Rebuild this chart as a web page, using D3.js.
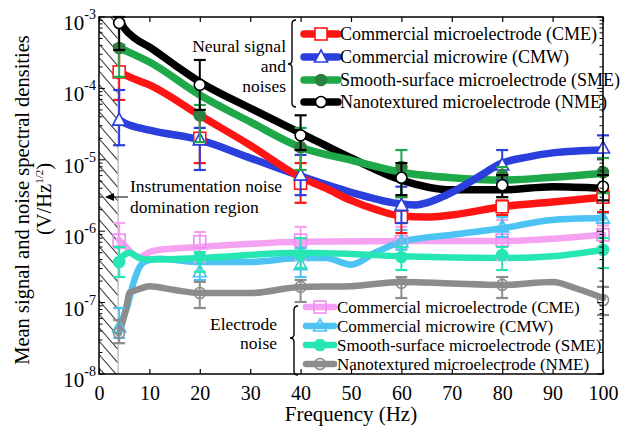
<!DOCTYPE html>
<html><head><meta charset="utf-8">
<script src="https://cdn.jsdelivr.net/npm/d3@7"></script>
<style>
html,body{margin:0;padding:0;background:#fff;}
</style></head>
<body>
<svg id="chart" width="622" height="429" font-family="Liberation Serif"></svg>
<script>
// ---------------- data ----------------
const markerFreqs = [4, 20, 40, 60, 80, 100];
const xTickValues = [0, 10, 20, 30, 40, 50, 60, 70, 80, 90, 100];
const yTickExponents = [-8, -7, -6, -5, -4, -3];
const hatchEndFreq = 3.8;

const seriesNames = ["Commercial microelectrode (CME)", "Commercial microwire (CMW)",
  "Smooth-surface microelectrode (SME)", "Nanotextured microelectrode (NME)"];

// Neural signal and noises — markers (mean) and error bars
const cmeSigMean = [1.7e-4, 2.0e-5, 4.7e-6, 1.58e-6, 2.2e-6, 3.0e-6];
const cmeSigHi   = [4.06e-4, 4.2e-5, 9.0e-6, 3.0e-6, 2.7e-6, 3.8e-6];
const cmeSigLo   = [6.9e-5, 9.0e-6, 2.5e-6, 9.4e-7, 1.69e-6, 1.86e-6];
const cmwSigMean = [3.6e-5, 1.9e-5, 6.1e-6, 2.3e-6, 8.45e-6, 1.46e-5];
const cmwSigHi   = [9.5e-5, 2.8e-5, 1.17e-5, 4.2e-6, 1.37e-5, 2.2e-5];
const cmwSigLo   = [1.6e-5, 7.2e-6, 3.2e-6, 1.3e-6, 5.2e-6, 6.5e-6];
const smeSigMean = [3.68e-4, 4.2e-5, 1.5e-5, 7.9e-6, 6.1e-6, 6.7e-6];
const smeSigHi   = [4.06e-4, 5.86e-5, 2.8e-5, 1.37e-5, 7.9e-6, 1.06e-5];
const smeSigLo   = [1.45e-4, 1.77e-5, 7.2e-6, 3.0e-6, 3.0e-6, 3.4e-6];
const nmeSigMean = [8.24e-4, 1.12e-4, 2.2e-5, 5.6e-6, 4.4e-6, 4.2e-6];
const nmeSigHi   = [1.0e-3, 2.5e-4, 4.2e-5, 9.0e-6, 6.1e-6, 6.1e-6];
const nmeSigLo   = [3.45e-4, 5.0e-5, 1.37e-5, 3.2e-6, 3.0e-6, 2.7e-6];

// Neural signal smoothed curves
const cmeSigLineF = [4, 6, 10, 20, 30, 40, 45, 50, 55, 60, 65, 70, 80, 90, 100];
const cmeSigLine  = [1.7e-4, 1.45e-4, 1.12e-4, 4.2e-5, 1.6e-5, 5.7e-6, 4.0e-6, 2.7e-6, 2.0e-6, 1.63e-6, 1.58e-6, 1.69e-6, 2.2e-6, 2.56e-6, 3.0e-6];
const cmwSigLineF = [4, 5, 10, 20, 30, 40, 50, 60, 63, 65, 70, 75, 80, 85, 90, 100];
const cmwSigLine  = [3.6e-5, 3.3e-5, 2.6e-5, 1.9e-5, 1.06e-5, 5.9e-6, 3.5e-6, 2.4e-6, 2.33e-6, 2.5e-6, 3.5e-6, 5.6e-6, 9.0e-6, 1.09e-5, 1.25e-5, 1.37e-5];
const smeSigLineF = [4, 6, 10, 20, 30, 40, 50, 60, 70, 80, 90, 100];
const smeSigLine  = [3.68e-4, 3.2e-4, 2.34e-4, 8.1e-5, 3.4e-5, 1.5e-5, 9.9e-6, 6.7e-6, 5.6e-6, 5.2e-6, 5.7e-6, 6.5e-6];
const nmeSigLineF = [4, 5, 7, 10, 15, 20, 30, 40, 50, 60, 70, 80, 90, 100];
const nmeSigLine  = [9.1e-4, 7.0e-4, 5.1e-4, 3.8e-4, 2.13e-4, 1.23e-4, 5.3e-5, 2.37e-5, 1.06e-5, 5.2e-6, 3.8e-6, 3.8e-6, 4.2e-6, 4.0e-6];

// Electrode noise — markers and error bars
const cmeNoiseMean = [7.5e-7, 7.1e-7, 7.5e-7, 7.1e-7, 7.5e-7, 8.9e-7];
const cmeNoiseHi   = [1.3e-6, 9.75e-7, 1.15e-6, 1.15e-6, 1.44e-6, 1.2e-6];
const cmeNoiseLo   = [5.8e-7, 3.7e-7, 4.0e-7, 4.35e-7, 4.0e-7, 6.0e-7];
const cmwNoiseMean = [4.55e-8, 2.7e-7, 3.4e-7, 7.1e-7, 1.15e-6, 1.53e-6];
const cmwNoiseHi   = [8.4e-8, 4.35e-7, 5.8e-7, 1.04e-6, 1.58e-6, 1.8e-6];
const cmwNoiseLo   = [3.2e-8, 2.07e-7, 2.28e-7, 5.5e-7, 8.3e-7, 1.3e-6];
const smeNoiseMean = [3.7e-7, 4.35e-7, 4.65e-7, 4.35e-7, 4.65e-7, 5.5e-7];
const smeNoiseHi   = [6.0e-7, 5.1e-7, 8.0e-7, 6.0e-7, 6.0e-7, 8.0e-7];
const smeNoiseLo   = [2.28e-7, 2.7e-7, 3.05e-7, 2.86e-7, 2.86e-7, 3.05e-7];
const nmeNoiseMean = [3.75e-8, 1.36e-7, 1.66e-7, 1.89e-7, 1.77e-7, 1.09e-7];
const nmeNoiseHi   = [5.7e-8, 1.95e-7, 2.07e-7, 2.28e-7, 2.28e-7, 1.66e-7];
const nmeNoiseLo   = [2.7e-8, 8.4e-8, 1.02e-7, 1.16e-7, 1.16e-7, 6.7e-8];

// Electrode noise smoothed curves
const cmeNoiseLineF = [4, 5, 7, 8, 10, 12, 20, 40, 60, 80, 100];
const cmeNoiseLine  = [7.5e-7, 6.4e-7, 4.65e-7, 4.35e-7, 5.1e-7, 5.5e-7, 6.0e-7, 7.1e-7, 7.3e-7, 7.3e-7, 8.9e-7];
const cmwNoiseLineF = [4, 5.6, 6.6, 7.5, 8.7, 10, 12, 20, 30, 40, 45, 50, 55, 60, 70, 80, 90, 100];
const cmwNoiseLine  = [4.55e-8, 8.7e-8, 1.65e-7, 2.6e-7, 3.6e-7, 3.95e-7, 4.1e-7, 3.7e-7, 3.7e-7, 4.2e-7, 4.2e-7, 3.4e-7, 5.1e-7, 7.1e-7, 8.9e-7, 1.1e-6, 1.44e-6, 1.53e-6];
const smeNoiseLineF = [4, 5, 6, 8, 10, 20, 40, 50, 60, 80, 90, 100];
const smeNoiseLine  = [4.0e-7, 4.65e-7, 5.0e-7, 4.2e-7, 4.0e-7, 4.2e-7, 5.0e-7, 4.8e-7, 4.45e-7, 4.2e-7, 4.45e-7, 5.5e-7];
const nmeNoiseLineF = [4, 4.8, 5.6, 6, 8, 10, 15, 20, 30, 40, 50, 60, 70, 80, 90, 95, 100];
const nmeNoiseLine  = [3.75e-8, 5.7e-8, 9.9e-8, 1.36e-7, 1.55e-7, 1.7e-7, 1.5e-7, 1.36e-7, 1.36e-7, 1.66e-7, 1.7e-7, 1.95e-7, 1.85e-7, 1.77e-7, 1.95e-7, 1.55e-7, 1.16e-7];

// ---------------- styles ----------------
const FONT = "Liberation Serif";
const neural = [
  {name: seriesNames[0], lf: cmeSigLineF, lv: cmeSigLine, mean: cmeSigMean, hi: cmeSigHi, lo: cmeSigLo, color: "#ff1414", mcolor: "#ff1414", shape: "square", fill: "#fff"},
  {name: seriesNames[1], lf: cmwSigLineF, lv: cmwSigLine, mean: cmwSigMean, hi: cmwSigHi, lo: cmwSigLo, color: "#2b3fdc", mcolor: "#2b3fdc", shape: "triangle", fill: "#fff"},
  {name: seriesNames[2], lf: smeSigLineF, lv: smeSigLine, mean: smeSigMean, hi: smeSigHi, lo: smeSigLo, color: "#1fa84a", mcolor: "#2e8040", shape: "circle", fill: "#2e8040"},
  {name: seriesNames[3], lf: nmeSigLineF, lv: nmeSigLine, mean: nmeSigMean, hi: nmeSigHi, lo: nmeSigLo, color: "#000000", mcolor: "#000000", shape: "circle", fill: "#fff"}
];
const noise = [
  {name: seriesNames[0], lf: cmeNoiseLineF, lv: cmeNoiseLine, mean: cmeNoiseMean, hi: cmeNoiseHi, lo: cmeNoiseLo, color: "#f6a2f3", mcolor: "#f08cf0", shape: "square", fill: "none"},
  {name: seriesNames[1], lf: cmwNoiseLineF, lv: cmwNoiseLine, mean: cmwNoiseMean, hi: cmwNoiseHi, lo: cmwNoiseLo, color: "#4cc3f2", mcolor: "#4cc3f2", shape: "triangle", fill: "none"},
  {name: seriesNames[2], lf: smeNoiseLineF, lv: smeNoiseLine, mean: smeNoiseMean, hi: smeNoiseHi, lo: smeNoiseLo, color: "#26e6b4", mcolor: "#26e6b4", shape: "circle", fill: "#26e6b4"},
  {name: seriesNames[3], lf: nmeNoiseLineF, lv: nmeNoiseLine, mean: nmeNoiseMean, hi: nmeNoiseHi, lo: nmeNoiseLo, color: "#8c8c8c", mcolor: "#8c8c8c", shape: "circle", fill: "none"}
];

// ---------------- chart ----------------
const svg = d3.select("#chart");
const L = 99, R = 603, T = 17, B = 374;
const x = d3.scaleLinear().domain([0, 100]).range([L, R]);
const y = d3.scaleLog().domain([1e-8, 1e-3]).range([B, T]);
const txt = (sel) => sel.append("text").attr("font-family", FONT).attr("fill", "#000");

// hatched region
const defs = svg.append("defs");
defs.append("clipPath").attr("id", "hclip").append("rect")
  .attr("x", x(0)).attr("y", T).attr("width", x(hatchEndFreq) - x(0)).attr("height", B - T);
const hatch = svg.append("g").attr("clip-path", "url(#hclip)");
const hw = x(hatchEndFreq) - x(0);
d3.range(-3, 30).forEach(k => {
  hatch.append("line")
    .attr("x1", x(0)).attr("y1", T + k * 13.5)
    .attr("x2", x(0) + hw).attr("y2", T + k * 13.5 + hw * 1.15)
    .attr("stroke", "#3a3a3a").attr("stroke-width", 1.1);
});
svg.append("line").attr("x1", x(hatchEndFreq)).attr("x2", x(hatchEndFreq))
  .attr("y1", T).attr("y2", B).attr("stroke", "#c4c4c4").attr("stroke-width", 1.5);

// curves
const line = d3.line().x(d => x(d[0])).y(d => y(d[1])).curve(d3.curveMonotoneX);
const drawLine = (s, w) => svg.append("path")
  .datum(s.lf.map((f, i) => [f, s.lv[i]]))
  .attr("d", line).attr("fill", "none").attr("stroke", s.color)
  .attr("stroke-width", w).attr("stroke-linejoin", "round").attr("stroke-linecap", "round");

function marker(g, s, cx, cy) {
  if (s.shape === "square") {
    g.append("rect").attr("x", cx - 6).attr("y", cy - 6).attr("width", 12).attr("height", 12)
      .attr("fill", s.fill).attr("stroke", s.mcolor).attr("stroke-width", 1.6);
  } else if (s.shape === "triangle") {
    g.append("path").attr("d", `M${cx},${cy - 7}L${cx + 6.5},${cy + 5}L${cx - 6.5},${cy + 5}Z`)
      .attr("fill", s.fill).attr("stroke", s.mcolor).attr("stroke-width", 1.6);
  } else {
    g.append("circle").attr("cx", cx).attr("cy", cy).attr("r", 5.5)
      .attr("fill", s.fill).attr("stroke", s.mcolor).attr("stroke-width", 1.6);
  }
}
function errorBars(s) {
  const g = svg.append("g");
  markerFreqs.forEach((f, i) => {
    const cx = x(f), y1 = y(s.hi[i]), y2 = y(s.lo[i]);
    g.append("line").attr("x1", cx).attr("x2", cx).attr("y1", y1).attr("y2", y2)
      .attr("stroke", s.color).attr("stroke-width", 2);
    [y1, y2].forEach(yy => g.append("line").attr("x1", cx - 6).attr("x2", cx + 6)
      .attr("y1", yy).attr("y2", yy).attr("stroke", s.color).attr("stroke-width", 2.2));
    marker(g, s, cx, y(s.mean[i]));
  });
}

noise.forEach(s => drawLine(s, 6.5));
neural.slice().reverse().forEach(s => drawLine(s, 7.5));
noise.forEach(errorBars);
neural.forEach(errorBars);

// axes box
svg.append("rect").attr("x", L).attr("y", T).attr("width", R - L).attr("height", B - T)
  .attr("fill", "none").attr("stroke", "#000").attr("stroke-width", 1.5);

// x ticks and labels
const xAxis = svg.append("g").attr("transform", `translate(0,${B})`)
  .call(d3.axisBottom(x).tickValues(xTickValues).tickSizeInner(-5).tickSizeOuter(0).tickPadding(12).tickFormat(d3.format("d")));
xAxis.select(".domain").remove();
xAxis.attr("font-family", FONT).attr("font-size", 20);
xAxis.selectAll("text").attr("font-family", FONT).attr("font-size", 20).attr("fill", "#000");
xAxis.selectAll("line").attr("stroke-width", 1.2);
svg.append("g").attr("transform", `translate(0,${T})`)
  .call(d3.axisTop(x).tickValues(xTickValues).tickSizeInner(-5).tickSizeOuter(0).tickFormat(""))
  .call(g => g.select(".domain").remove())
  .selectAll("line").attr("stroke-width", 1.2);

// y ticks (log, with minor)
const yt = y.ticks();
yt.forEach(v => {
  const major = Math.abs(Math.log10(v) - Math.round(Math.log10(v))) < 1e-9;
  const len = major ? 6 : 3.5;
  [[L, L + len], [R, R - len]].forEach(([a, b]) =>
    svg.append("line").attr("x1", a).attr("x2", b).attr("y1", y(v)).attr("y2", y(v))
      .attr("stroke", "#000").attr("stroke-width", 1));
});
yTickExponents.forEach(e => {
  const t = txt(svg).attr("x", L - 3).attr("y", y(Math.pow(10, e)) + 13)
    .attr("text-anchor", "end").attr("font-size", 21);
  t.append("tspan").text("10");
  t.append("tspan").attr("dy", -11).attr("font-size", 14).text(String(e));
});

// axis titles
txt(svg).attr("x", (L + R) / 2).attr("y", 421).attr("text-anchor", "middle")
  .attr("font-size", 21).text("Frequency (Hz)");
txt(svg).attr("transform", "translate(29,200) rotate(-90)").attr("text-anchor", "middle")
  .attr("font-size", 20.5).text("Mean signal and noise spectral densities");
const ut = txt(svg).attr("transform", "translate(51,199) rotate(-90)").attr("text-anchor", "middle")
  .attr("font-size", 20.5);
ut.append("tspan").text("(V/Hz");
ut.append("tspan").attr("dy", -8).attr("font-size", 11).text("1/2");
ut.append("tspan").attr("dy", 8).text(")");

// instrumentation annotation
txt(svg).attr("x", 130).attr("y", 192).attr("font-size", 17.5).text("Instrumentation noise");
txt(svg).attr("x", 130).attr("y", 213).attr("font-size", 17.5).text("domination region");
svg.append("line").attr("x1", 128).attr("x2", 112).attr("y1", 197).attr("y2", 197).attr("stroke", "#000").attr("stroke-width", 1);
svg.append("path").attr("d", "M105,197L114,193L114,201Z").attr("fill", "#000");

// braces
function brace(xr, y0, y1, ym) {
  const xm = xr - 4, xt = xr - 8;
  svg.append("path").attr("d",
    `M${xr},${y0} Q${xm},${y0} ${xm},${y0 + 4} L${xm},${ym - 4} Q${xm},${ym} ${xt},${ym} Q${xm},${ym} ${xm},${ym + 4} L${xm},${y1 - 4} Q${xm},${y1} ${xr},${y1}`)
    .attr("fill", "none").attr("stroke", "#000").attr("stroke-width", 1.4);
}
brace(296, 20, 107, 64);
brace(298, 306, 375, 338);

// group labels
[["Neural signal", 52], ["and", 72], ["noises", 92]].forEach(([t, yy]) =>
  txt(svg).attr("x", 286).attr("y", yy).attr("text-anchor", "end").attr("font-size", 17.5).text(t));
[["Electrode", 330], ["noise", 349]].forEach(([t, yy]) =>
  txt(svg).attr("x", 277).attr("y", yy).attr("text-anchor", "end").attr("font-size", 17.5).text(t));

// legends
function legend(series, rows, x0, x1, tx, w, fs) {
  series.forEach((s, i) => {
    const g = svg.append("g");
    const cy = rows[i];
    g.append("line").attr("x1", x0).attr("x2", x1).attr("y1", cy).attr("y2", cy)
      .attr("stroke", s.color).attr("stroke-width", w).attr("stroke-linecap", "round");
    marker(g, s, (x0 + x1) / 2, cy);
    txt(g).attr("x", tx).attr("y", cy + 6).attr("font-size", fs).text(s.name);
  });
}
legend(neural, [34, 57, 80, 102], 304, 338, 340, 7.5, 18);
legend(noise, [307, 326, 345, 364], 306, 334, 337, 6.5, 17);
</script>
</body></html>
